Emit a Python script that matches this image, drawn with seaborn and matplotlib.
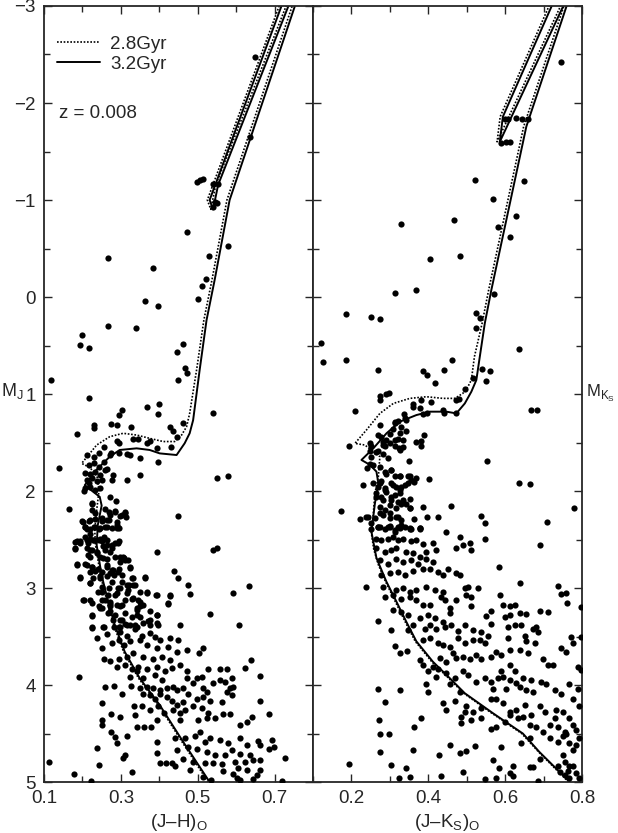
import numpy as np
import pandas as pd
import matplotlib
matplotlib.use("Agg")
import matplotlib.pyplot as plt
import seaborn as sns

# stars, (J-H)o vs MJ
jh_bright = [(0.648, -2.47), (0.637, -1.65), (0.497, -1.19), (0.505, -1.21), (0.514, -1.22), (0.540, -1.17),
             (0.553, -1.16), (0.544, -0.98), (0.549, -0.97), (0.540, -0.93), (0.473, -0.67), (0.579, -0.53),
             (0.530, -0.42), (0.267, -0.40), (0.384, -0.30), (0.522, -0.19)]

jh_mid = [(0.512, -0.11), (0.500, 0.02), (0.363, 0.04), (0.396, 0.09), (0.267, 0.30), (0.340, 0.32), (0.198, 0.39),
          (0.194, 0.49), (0.216, 0.53), (0.462, 0.48), (0.447, 0.57), (0.468, 0.73), (0.471, 0.78), (0.449, 0.86),
          (0.119, 0.86), (0.216, 1.04), (0.369, 1.13), (0.400, 1.10), (0.396, 1.21), (0.539, 1.20), (0.304, 1.17),
          (0.295, 1.22), (0.229, 1.32), (0.230, 1.35), (0.274, 1.31), (0.289, 1.32), (0.326, 1.34), (0.185, 1.41),
          (0.427, 1.34), (0.436, 1.38), (0.447, 1.44), (0.461, 1.30), (0.289, 1.48), (0.294, 1.51), (0.332, 1.46),
          (0.344, 1.46), (0.367, 1.51), (0.377, 1.48), (0.395, 1.56), (0.430, 1.55), (0.255, 1.55), (0.274, 1.61),
          (0.296, 1.61), (0.315, 1.62), (0.325, 1.63), (0.397, 1.70), (0.351, 1.66), (0.211, 1.63), (0.229, 1.65),
          (0.242, 1.61), (0.272, 1.63), (0.139, 1.76), (0.549, 1.87), (0.580, 1.85), (0.351, 1.83), (0.315, 1.89),
          (0.279, 1.84), (0.276, 1.89),
          (0.216, 1.73), (0.229, 1.71), (0.242, 1.75), (0.255, 1.70), (0.263, 1.77), (0.207, 1.81), (0.220, 1.82),
          (0.233, 1.80), (0.246, 1.84), (0.259, 1.78), (0.211, 1.89), (0.224, 1.87), (0.237, 1.90), (0.250, 1.89),
          (0.207, 1.97), (0.220, 1.96), (0.233, 1.99), (0.203, 2.00), (0.246, 1.97), (0.216, 1.92),
          (0.272, 2.06), (0.287, 2.10), (0.226, 2.12), (0.165, 2.19), (0.449, 2.26),
          (0.224, 2.20), (0.259, 2.19), (0.268, 2.22), (0.285, 2.22), (0.311, 2.22), (0.313, 2.27), (0.198, 2.31),
          (0.216, 2.31), (0.233, 2.29), (0.250, 2.31), (0.268, 2.30), (0.289, 2.32), (0.298, 2.26), (0.207, 2.37),
          (0.229, 2.37), (0.242, 2.39), (0.259, 2.37), (0.276, 2.38), (0.294, 2.38)]

# the crowded upper main sequence, read from a close-up
jh_dense = [(0.224, 2.13), (0.232, 2.23), (0.220, 2.30), (0.202, 2.32), (0.250, 2.28), (0.263, 2.30), (0.271, 2.25),
            (0.284, 2.21), (0.302, 2.25), (0.310, 2.23), (0.289, 2.35), (0.211, 2.39), (0.220, 2.44), (0.206, 2.47),
            (0.185, 2.52), (0.180, 2.59), (0.193, 2.54), (0.215, 2.54), (0.228, 2.51), (0.245, 2.49), (0.263, 2.51),
            (0.276, 2.56), (0.293, 2.54), (0.254, 2.57), (0.220, 2.61), (0.237, 2.64), (0.215, 2.66), (0.271, 2.63),
            (0.254, 2.69), (0.284, 2.68), (0.306, 2.68), (0.319, 2.71), (0.297, 2.73), (0.185, 2.75), (0.206, 2.75),
            (0.224, 2.78), (0.241, 2.80), (0.263, 2.76), (0.280, 2.815), (0.293, 2.83), (0.323, 2.78), (0.220, 2.83),
            (0.245, 2.88), (0.228, 2.90), (0.193, 2.90), (0.271, 2.85), (0.302, 2.935), (0.328, 2.90), (0.362, 2.90),
            (0.220, 2.95), (0.250, 2.99), (0.276, 2.935), (0.293, 3.00), (0.315, 2.97), (0.332, 2.97), (0.241, 3.04),
            (0.267, 3.07), (0.289, 3.055), (0.319, 3.02), (0.367, 3.05), (0.393, 3.07), (0.427, 3.07), (0.202, 3.12),
            (0.220, 3.12), (0.250, 3.12), (0.271, 3.14), (0.310, 3.12), (0.328, 3.11), (0.345, 3.12), (0.423, 3.16),
            (0.245, 3.21), (0.271, 3.19), (0.297, 3.19), (0.341, 3.23), (0.349, 3.19), (0.267, 3.26), (0.284, 3.28),
            (0.224, 3.28), (0.341, 3.28), (0.280, 3.33), (0.302, 3.33), (0.375, 3.33), (0.393, 3.28), (0.297, 3.40),
            (0.254, 3.40), (0.224, 3.40), (0.323, 3.38), (0.341, 3.40), (0.358, 3.365), (0.375, 3.38), (0.393, 3.365)]

jh_faint = [(0.207, 2.37), (0.220, 2.39), (0.233, 2.37), (0.246, 2.38), (0.263, 2.37), (0.289, 2.38), (0.181, 2.53),
            (0.181, 2.60), (0.194, 2.52), (0.211, 2.51), (0.220, 2.49), (0.229, 2.51), (0.242, 2.51), (0.250, 2.52),
            (0.255, 2.47), (0.263, 2.56), (0.285, 2.54), (0.294, 2.52), (0.211, 2.59), (0.224, 2.61), (0.237, 2.63),
            (0.259, 2.61), (0.276, 2.59), (0.220, 2.68), (0.246, 2.68), (0.263, 2.70), (0.298, 2.68), (0.311, 2.71),
            (0.395, 2.63), (0.539, 2.61), (0.551, 2.59), (0.439, 2.82), (0.448, 2.90), (0.475, 2.97), (0.480, 3.06),
            (0.634, 2.98), (0.591, 3.05), (0.533, 3.27), (0.608, 3.38), (0.427, 3.08), (0.423, 3.15), (0.391, 3.07),
            (0.363, 2.89), (0.393, 3.28), (0.396, 3.38),
            (0.187, 2.76), (0.211, 2.76), (0.224, 2.78), (0.194, 2.89), (0.233, 2.82), (0.250, 2.83), (0.263, 2.78),
            (0.276, 2.81), (0.294, 2.80), (0.307, 2.69), (0.324, 2.79), (0.220, 2.95), (0.246, 2.90), (0.263, 2.88),
            (0.281, 2.87), (0.302, 2.87), (0.331, 2.90), (0.320, 2.97), (0.337, 2.97), (0.350, 3.04), (0.367, 3.04),
            (0.250, 3.04), (0.268, 3.00), (0.298, 3.00), (0.317, 3.05), (0.285, 3.07),
            (0.203, 3.12), (0.224, 3.15), (0.242, 3.19), (0.259, 3.12), (0.272, 3.16), (0.289, 3.18), (0.302, 3.18),
            (0.250, 3.21), (0.272, 3.24), (0.224, 3.29), (0.332, 3.10), (0.350, 3.14), (0.358, 3.18), (0.341, 3.21),
            (0.311, 3.26), (0.298, 3.33), (0.311, 3.37), (0.328, 3.30), (0.350, 3.30), (0.371, 3.34), (0.376, 3.24),
            (0.224, 3.41), (0.255, 3.40), (0.281, 3.40), (0.294, 3.40), (0.315, 3.38), (0.337, 3.38),
            (0.263, 3.47), (0.298, 3.45), (0.315, 3.49), (0.337, 3.42), (0.354, 3.49), (0.376, 3.46), (0.389, 3.50),
            (0.402, 3.54), (0.428, 3.52), (0.449, 3.54), (0.454, 3.38), (0.239, 3.52), (0.250, 3.62), (0.276, 3.57),
            (0.294, 3.54), (0.307, 3.59), (0.324, 3.55), (0.350, 3.54), (0.367, 3.59), (0.393, 3.62), (0.423, 3.61),
            (0.445, 3.66), (0.471, 3.64), (0.504, 3.67), (0.514, 3.62), (0.255, 3.73), (0.272, 3.75), (0.294, 3.73),
            (0.315, 3.71), (0.332, 3.67), (0.358, 3.71), (0.384, 3.73), (0.406, 3.71), (0.428, 3.74),
            (0.289, 3.81), (0.311, 3.79), (0.328, 3.83), (0.345, 3.81), (0.367, 3.83), (0.393, 3.81), (0.415, 3.86),
            (0.432, 3.82), (0.454, 3.79), (0.471, 3.86), (0.497, 3.93), (0.527, 3.84), (0.558, 3.83), (0.575, 3.83),
            (0.623, 3.82), (0.638, 3.74), (0.663, 3.91), (0.588, 3.93), (0.324, 3.92), (0.341, 3.86), (0.358, 3.93),
            (0.389, 3.90), (0.406, 3.95), (0.471, 3.93), (0.510, 3.92), (0.190, 3.92), (0.259, 4.02), (0.282, 4.01),
            (0.326, 4.01), (0.350, 4.03), (0.367, 4.02), (0.384, 4.03), (0.402, 4.05), (0.419, 4.03), (0.436, 4.02),
            (0.445, 4.05), (0.462, 4.03), (0.488, 3.98), (0.514, 4.03), (0.540, 3.98), (0.558, 3.95), (0.571, 3.97),
            (0.584, 4.03), (0.592, 4.02), (0.523, 4.07),
            (0.250, 4.19), (0.302, 4.09), (0.358, 4.09), (0.376, 4.10), (0.389, 4.14), (0.402, 4.09), (0.419, 4.12),
            (0.432, 4.16), (0.445, 4.21), (0.462, 4.17), (0.475, 4.09), (0.497, 4.14), (0.514, 4.12), (0.532, 4.16),
            (0.562, 4.17), (0.588, 4.10), (0.575, 4.07), (0.663, 4.16), (0.335, 4.22), (0.354, 4.22), (0.376, 4.26),
            (0.397, 4.22), (0.412, 4.29), (0.436, 4.26), (0.454, 4.29), (0.467, 4.26), (0.488, 4.22), (0.510, 4.24),
            (0.527, 4.29), (0.545, 4.34), (0.566, 4.30), (0.584, 4.30), (0.610, 4.41), (0.627, 4.38), (0.640, 4.33),
            (0.686, 4.30), (0.252, 4.36), (0.250, 4.41), (0.274, 4.30), (0.298, 4.33), (0.337, 4.31), (0.341, 4.43),
            (0.360, 4.43), (0.378, 4.43), (0.393, 4.36), (0.454, 4.36), (0.501, 4.36), (0.523, 4.34),
            (0.274, 4.48), (0.285, 4.54), (0.291, 4.60), (0.317, 4.53), (0.393, 4.59), (0.441, 4.55), (0.468, 4.55),
            (0.493, 4.53), (0.506, 4.48), (0.519, 4.59), (0.532, 4.55), (0.558, 4.57), (0.578, 4.60), (0.610, 4.55),
            (0.627, 4.62), (0.657, 4.58), (0.694, 4.57), (0.698, 4.64), (0.686, 4.66), (0.239, 4.65), (0.393, 4.70),
            (0.445, 4.67), (0.475, 4.64), (0.497, 4.66), (0.523, 4.69), (0.545, 4.72), (0.571, 4.72), (0.588, 4.67),
            (0.610, 4.71), (0.636, 4.72), (0.662, 4.62), (0.727, 4.75), (0.305, 4.75), (0.311, 4.72), (0.112, 4.79),
            (0.402, 4.80), (0.417, 4.80), (0.432, 4.80), (0.441, 4.83), (0.462, 4.76), (0.488, 4.79), (0.519, 4.80),
            (0.540, 4.80), (0.562, 4.81), (0.597, 4.79), (0.623, 4.79), (0.644, 4.77), (0.663, 4.77),
            (0.242, 4.82), (0.179, 4.92), (0.222, 4.99), (0.328, 4.90), (0.481, 4.88), (0.513, 4.95), (0.534, 4.98),
            (0.566, 4.89), (0.592, 4.92), (0.601, 4.96), (0.610, 4.98), (0.627, 4.88), (0.653, 4.93), (0.662, 4.88),
            (0.644, 4.97), (0.718, 4.99), (0.605, 4.86)]

# stars, (J-Ks)o vs MKs
jk_bright = [(0.744, -2.42), (0.599, -1.84), (0.607, -1.84), (0.627, -1.85), (0.645, -1.83), (0.660, -1.83),
             (0.590, -1.59), (0.601, -1.60), (0.612, -1.60), (0.521, -1.21), (0.649, -1.20), (0.568, -1.01),
             (0.629, -0.84), (0.581, -0.72), (0.613, -0.62), (0.328, -0.75), (0.468, -0.79), (0.405, -0.39),
             (0.482, -0.42)]

jk_mid = [(0.313, -0.04), (0.369, -0.07), (0.571, -0.03), (0.186, 0.18), (0.250, 0.21), (0.274, 0.23), (0.525, 0.17),
          (0.535, 0.22), (0.523, 0.32), (0.121, 0.47), (0.127, 0.67), (0.187, 0.65), (0.270, 0.75), (0.637, 0.54),
          (0.385, 0.76), (0.396, 0.80), (0.440, 0.75), (0.461, 0.65), (0.418, 0.89), (0.540, 0.74), (0.560, 0.76),
          (0.549, 0.87), (0.516, 0.84), (0.496, 0.95), (0.473, 1.06), (0.480, 1.05), (0.274, 1.02), (0.274, 1.06),
          (0.289, 1.00), (0.297, 0.99), (0.209, 1.18), (0.668, 1.16), (0.683, 1.17), (0.359, 1.10), (0.359, 1.13),
          (0.382, 1.06), (0.379, 1.14), (0.408, 1.08), (0.386, 1.21), (0.397, 1.20), (0.438, 1.17), (0.440, 1.20),
          (0.473, 1.20), (0.337, 1.21), (0.313, 1.29), (0.321, 1.28), (0.343, 1.27), (0.274, 1.32), (0.308, 1.36),
          (0.330, 1.34), (0.326, 1.40), (0.300, 1.41), (0.270, 1.42), (0.278, 1.44), (0.289, 1.47), (0.282, 1.53),
          (0.313, 1.47), (0.321, 1.46), (0.334, 1.47), (0.324, 1.56), (0.334, 1.55), (0.343, 1.38), (0.369, 1.49),
          (0.380, 1.48), (0.380, 1.54), (0.390, 1.42), (0.193, 1.54), (0.248, 1.50), (0.252, 1.54), (0.248, 1.59),
          (0.270, 1.59), (0.283, 1.62), (0.295, 1.66), (0.350, 1.69), (0.552, 1.69), (0.248, 1.72), (0.257, 1.73),
          (0.241, 1.76), (0.287, 1.80), (0.302, 1.78), (0.313, 1.85), (0.327, 1.85), (0.352, 1.85), (0.367, 1.87),
          (0.401, 1.88), (0.229, 1.94), (0.256, 1.92), (0.270, 1.96), (0.278, 1.90), (0.287, 1.97), (0.304, 1.92),
          (0.317, 1.96), (0.326, 1.99), (0.339, 1.94), (0.347, 1.92), (0.362, 1.91), (0.636, 1.92), (0.664, 1.93),
          (0.265, 2.02), (0.278, 2.06), (0.291, 2.01), (0.304, 2.09), (0.313, 2.04), (0.326, 2.02), (0.334, 2.09),
          (0.352, 2.08), (0.274, 2.16), (0.287, 2.20), (0.300, 2.14), (0.317, 2.18), (0.330, 2.13), (0.352, 2.18),
          (0.385, 2.16), (0.460, 2.15), (0.780, 2.17), (0.174, 2.21), (0.222, 2.29), (0.239, 2.27), (0.261, 2.28),
          (0.282, 2.25), (0.300, 2.28), (0.317, 2.27), (0.330, 2.30), (0.362, 2.29), (0.397, 2.27), (0.425, 2.27),
          (0.536, 2.26), (0.548, 2.33), (0.708, 2.32), (0.274, 2.37), (0.300, 2.36), (0.321, 2.37), (0.352, 2.38),
          (0.378, 2.38)]

jk_dense = [(0.274, 1.75), (0.291, 1.82), (0.304, 1.78), (0.326, 1.85), (0.347, 1.85), (0.274, 1.92), (0.287, 1.99),
            (0.309, 1.94), (0.330, 1.96), (0.356, 1.89), (0.265, 2.06), (0.283, 2.09), (0.304, 2.06), (0.321, 2.11),
            (0.343, 2.13), (0.274, 2.23), (0.300, 2.23), (0.321, 2.27), (0.352, 2.18), (0.269, 2.37), (0.295, 2.37),
            (0.313, 2.42), (0.330, 2.35), (0.356, 2.39), (0.378, 2.39), (0.252, 2.33), (0.244, 2.27), (0.300, 1.51),
            (0.313, 1.54), (0.326, 1.58), (0.287, 1.54), (0.265, 1.595), (0.252, 1.646), (0.283, 1.49), (0.313, 1.30),
            (0.339, 1.25)]

jk_faint = [(0.252, 2.39), (0.270, 2.37), (0.287, 2.39), (0.300, 2.37), (0.313, 2.40), (0.326, 2.38), (0.339, 2.37),
            (0.352, 2.39), (0.378, 2.38), (0.447, 2.42), (0.482, 2.47), (0.508, 2.54), (0.547, 2.49), (0.691, 2.56),
            (0.265, 2.49), (0.278, 2.51), (0.296, 2.49), (0.309, 2.47), (0.321, 2.51), (0.334, 2.49), (0.356, 2.52),
            (0.369, 2.51), (0.386, 2.55), (0.412, 2.54), (0.265, 2.59), (0.287, 2.63), (0.304, 2.61), (0.317, 2.59),
            (0.343, 2.63), (0.360, 2.64), (0.378, 2.68), (0.395, 2.63), (0.421, 2.61), (0.473, 2.59), (0.489, 2.56),
            (0.512, 2.61),
            (0.274, 2.71), (0.296, 2.75), (0.317, 2.70), (0.334, 2.73), (0.356, 2.71), (0.373, 2.75), (0.395, 2.70),
            (0.412, 2.73), (0.278, 2.87), (0.300, 2.85), (0.321, 2.83), (0.339, 2.87), (0.360, 2.82), (0.386, 2.80),
            (0.404, 2.80), (0.425, 2.83), (0.438, 2.87), (0.473, 2.85), (0.482, 2.87), (0.451, 2.80), (0.584, 2.78),
            (0.239, 2.99), (0.283, 2.99), (0.317, 3.02), (0.334, 3.00), (0.352, 3.04), (0.369, 3.02), (0.395, 2.99),
            (0.417, 3.02), (0.438, 3.04), (0.495, 3.00), (0.503, 2.99), (0.529, 3.00), (0.639, 2.95), (0.737, 2.98),
            (0.746, 3.06), (0.759, 3.05), (0.761, 3.15), (0.797, 3.20),
            (0.309, 3.07), (0.330, 3.11), (0.352, 3.09), (0.369, 3.12), (0.386, 3.18), (0.404, 3.18), (0.434, 3.09),
            (0.443, 3.12), (0.456, 3.21), (0.473, 3.12), (0.499, 3.07), (0.512, 3.09), (0.287, 3.09), (0.309, 3.23),
            (0.330, 3.25), (0.347, 3.28), (0.378, 3.31), (0.399, 3.28), (0.417, 3.31), (0.438, 3.35), (0.456, 3.26),
            (0.512, 3.19), (0.551, 3.29), (0.564, 3.24), (0.586, 3.07), (0.594, 3.18), (0.612, 3.19), (0.625, 3.18),
            (0.638, 3.26), (0.655, 3.27), (0.690, 3.24), (0.711, 3.25), (0.599, 3.30), (0.612, 3.28), (0.268, 3.34),
            (0.304, 3.43), (0.347, 3.43), (0.360, 3.38), (0.391, 3.42), (0.404, 3.38), (0.421, 3.42), (0.443, 3.40),
            (0.460, 3.38), (0.477, 3.44), (0.495, 3.38), (0.516, 3.43), (0.538, 3.45), (0.555, 3.49), (0.564, 3.37),
            (0.607, 3.40), (0.625, 3.38), (0.642, 3.38), (0.607, 3.52), (0.651, 3.49), (0.672, 3.42), (0.685, 3.45),
            (0.681, 3.40), (0.797, 3.50),
            (0.313, 3.60), (0.326, 3.67), (0.345, 3.65), (0.386, 3.54), (0.404, 3.52), (0.425, 3.57), (0.438, 3.59),
            (0.456, 3.61), (0.477, 3.52), (0.495, 3.57), (0.516, 3.54), (0.534, 3.54), (0.547, 3.57), (0.378, 3.74),
            (0.386, 3.79), (0.412, 3.81), (0.430, 3.72), (0.447, 3.76), (0.464, 3.67), (0.473, 3.72), (0.490, 3.71),
            (0.508, 3.73), (0.525, 3.69), (0.538, 3.73), (0.564, 3.71), (0.577, 3.66), (0.590, 3.69), (0.612, 3.64),
            (0.638, 3.64), (0.655, 3.55), (0.659, 3.67), (0.677, 3.57), (0.698, 3.73), (0.711, 3.79), (0.724, 3.79),
            (0.746, 3.62), (0.759, 3.66), (0.776, 3.57), (0.789, 3.81), (0.797, 3.85), (0.772, 3.50), (0.612, 3.79),
            (0.625, 3.86), (0.590, 3.86),
            (0.399, 3.86), (0.425, 3.83), (0.447, 3.88), (0.469, 3.93), (0.490, 3.86), (0.503, 3.90), (0.525, 3.97),
            (0.547, 3.93), (0.564, 3.97), (0.581, 3.93), (0.594, 3.92), (0.612, 3.95), (0.629, 3.98), (0.646, 3.93),
            (0.668, 3.95), (0.694, 3.97), (0.707, 3.99), (0.729, 4.05), (0.746, 4.09), (0.767, 3.99), (0.789, 4.04),
            (0.395, 3.99), (0.399, 4.07), (0.270, 4.04), (0.326, 4.05), (0.421, 3.92), (0.456, 3.99), (0.482, 4.07),
            (0.568, 4.04), (0.603, 4.04), (0.638, 4.02), (0.655, 4.05), (0.672, 4.07),
            (0.287, 4.17), (0.438, 4.19), (0.447, 4.26), (0.469, 4.16), (0.495, 4.28), (0.499, 4.22), (0.516, 4.28),
            (0.538, 4.24), (0.564, 4.14), (0.577, 4.14), (0.594, 4.19), (0.612, 4.28), (0.629, 4.26), (0.651, 4.21),
            (0.668, 4.31), (0.690, 4.22), (0.703, 4.28), (0.733, 4.26), (0.750, 4.28), (0.776, 4.14), (0.793, 4.22),
            (0.767, 4.34), (0.486, 4.33), (0.512, 4.36), (0.536, 4.34), (0.564, 4.45), (0.577, 4.43), (0.599, 4.38),
            (0.612, 4.31), (0.633, 4.34), (0.646, 4.33), (0.664, 4.41), (0.681, 4.43), (0.698, 4.48), (0.716, 4.41),
            (0.729, 4.34), (0.737, 4.43), (0.755, 4.48), (0.776, 4.41), (0.785, 4.46), (0.272, 4.36), (0.274, 4.50),
            (0.297, 4.51), (0.362, 4.43), (0.380, 4.34), (0.486, 4.39),
            (0.274, 4.69), (0.359, 4.67), (0.456, 4.62), (0.482, 4.70), (0.499, 4.68), (0.521, 4.63), (0.428, 4.72),
            (0.588, 4.64), (0.642, 4.60), (0.664, 4.55), (0.690, 4.76), (0.716, 4.55), (0.737, 4.59), (0.750, 4.53),
            (0.759, 4.50), (0.767, 4.60), (0.785, 4.62), (0.793, 4.55), (0.776, 4.67), (0.750, 4.72), (0.568, 4.77),
            (0.620, 4.83), (0.664, 4.85), (0.672, 4.85), (0.737, 4.83), (0.755, 4.79), (0.767, 4.84),
            (0.193, 4.81), (0.304, 4.82), (0.341, 4.86), (0.324, 4.96), (0.352, 4.95), (0.434, 4.94), (0.490, 4.90),
            (0.547, 4.97), (0.577, 4.96), (0.584, 4.86), (0.612, 4.91), (0.620, 4.94), (0.685, 4.99), (0.742, 4.90),
            (0.755, 4.93), (0.763, 4.89), (0.776, 4.84), (0.785, 4.91), (0.793, 4.96), (0.767, 4.96)]

# isochrones (z = 0.008); values above -3 run off the top of the panel
iso28_jh_x = [0.527, 0.459, 0.398, 0.346, 0.307, 0.281, 0.264, 0.247, 0.234, 0.232, 0.237, 0.243, 0.238, 0.220,
              0.198, 0.237, 0.271, 0.306, 0.341, 0.375, 0.410, 0.440, 0.458, 0.471, 0.479, 0.497, 0.516, 0.537,
              0.576, 0.745, 0.780, 0.769, 0.729, 0.547, 0.534, 0.525, 0.711, 0.749]
iso28_jh_y = [5.0, 4.585, 4.206, 3.93, 3.657, 3.38, 3.14, 2.87, 2.557, 2.4, 2.2, 2.0, 1.85, 1.76,
              1.715, 1.526, 1.44, 1.405, 1.423, 1.457, 1.49, 1.49, 1.423, 1.337, 1.2, 0.753, 0.237, -0.175,
              -1.0, -2.99, -3.4, -3.4, -2.99, -1.155, -0.904, -1.0, -2.99, -3.4]
iso32_jh_x = [0.531, 0.462, 0.401, 0.349, 0.310, 0.284, 0.267, 0.250, 0.237, 0.240, 0.250, 0.245, 0.206, 0.237,
              0.271, 0.297, 0.341, 0.375, 0.401, 0.445, 0.466, 0.479, 0.488, 0.505, 0.523, 0.544, 0.583, 0.752,
              0.787, 0.776, 0.735, 0.553, 0.540, 0.531, 0.717, 0.755]
iso32_jh_y = [5.0, 4.585, 4.206, 3.93, 3.657, 3.38, 3.14, 2.87, 2.557, 2.35, 2.15, 2.06, 1.94, 1.78,
              1.646, 1.577, 1.56, 1.577, 1.612, 1.629, 1.508, 1.405, 1.27, 0.753, 0.237, -0.175, -1.0, -2.99,
              -3.4, -3.4, -2.99, -1.155, -0.904, -1.0, -2.99, -3.4]

iso28_jk_x = [0.765, 0.687, 0.643, 0.565, 0.492, 0.453, 0.409, 0.366, 0.340, 0.314, 0.287, 0.270, 0.258, 0.252,
              0.257, 0.261, 0.270, 0.274, 0.257, 0.235, 0.209, 0.239, 0.274, 0.309, 0.352, 0.395, 0.438, 0.469,
              0.490, 0.503, 0.512, 0.520, 0.540, 0.557, 0.565, 0.648, 0.752, 0.786, 0.759, 0.713, 0.587, 0.579,
              0.743, 0.791]
iso28_jk_y = [5.0, 4.69, 4.50, 4.29, 4.085, 3.93, 3.76, 3.55, 3.35, 3.14, 2.92, 2.76, 2.6, 2.437,
              2.23, 2.024, 1.853, 1.646, 1.595, 1.526, 1.509, 1.371, 1.2, 1.097, 1.045, 1.028, 1.045, 1.045,
              0.993, 0.925, 0.856, 0.615, 0.271, -0.072, -0.22, -1.756, -2.99, -3.4, -3.4, -2.99, -1.859, -1.6,
              -2.99, -3.4]
iso32_jk_x = [0.768, 0.689, 0.646, 0.568, 0.495, 0.456, 0.412, 0.369, 0.343, 0.317, 0.291, 0.265, 0.252, 0.261,
              0.270, 0.265, 0.248, 0.226, 0.257, 0.291, 0.326, 0.369, 0.404, 0.447, 0.473, 0.495, 0.512, 0.525,
              0.534, 0.547, 0.564, 0.572, 0.655, 0.759, 0.793, 0.766, 0.720, 0.594, 0.586, 0.750, 0.798]
iso32_jk_y = [5.0, 4.69, 4.50, 4.29, 4.085, 3.93, 3.76, 3.55, 3.35, 3.14, 2.935, 2.69, 2.42, 2.13,
              1.92, 1.80, 1.73, 1.68, 1.56, 1.406, 1.285, 1.217, 1.182, 1.182, 1.2, 1.097, 0.976, 0.856,
              0.615, 0.271, -0.072, -0.22, -1.756, -2.99, -3.4, -3.4, -2.99, -1.859, -1.6, -2.99, -3.4]

jh = pd.DataFrame(jh_bright + jh_mid + jh_dense + jh_faint, columns=["color", "mag"])
jk = pd.DataFrame(jk_bright + jk_mid + jk_dense + jk_faint, columns=["color", "mag"])

sns.set_style("ticks")
plt.rcParams["font.family"] = ["Liberation Sans", "DejaVu Sans"]
plt.rcParams["mathtext.fontset"] = "custom"
plt.rcParams["mathtext.rm"] = "Liberation Sans"
plt.rcParams["font.size"] = 13.5
plt.rcParams["axes.linewidth"] = 1.3

fig = plt.figure(figsize=(6.18, 8.33), dpi=100)
ax1 = fig.add_axes([0.0712, 0.0612, 0.4353, 0.9316])
ax2 = fig.add_axes([0.5065, 0.0612, 0.4353, 0.9316])

dotted = (0, (1.0, 1.0))

for ax, df, x28, y28, x32, y32 in [(ax1, jh, iso28_jh_x, iso28_jh_y, iso32_jh_x, iso32_jh_y),
                                   (ax2, jk, iso28_jk_x, iso28_jk_y, iso32_jk_x, iso32_jk_y)]:
    sns.scatterplot(data=df, x="color", y="mag", ax=ax, s=20, color="black", linewidth=0, zorder=3)
    sns.lineplot(x=x28, y=y28, ax=ax, sort=False, estimator=None, color="black", lw=1.2,
                 linestyle=dotted, label="2.8Gyr", zorder=2)
    sns.lineplot(x=x32, y=y32, ax=ax, sort=False, estimator=None, color="black", lw=1.4,
                 label="3.2Gyr", zorder=2)
    ax.set_xlim(0.1, 0.8)
    ax.set_ylim(5, -3)
    ax.set_yticks(np.arange(-3, 6, 1))
    ax.set_yticks(np.arange(-2.5, 5, 1), minor=True)
    ax.tick_params(which="both", direction="in", top=True, right=True, width=1.0, labelsize=13.5)
    ax.tick_params(which="major", length=6, pad=6)
    ax.tick_params(which="minor", length=4)
    ax.set_xlabel("")
    ax.set_ylabel("")

ax1.set_xticks([0.1, 0.3, 0.5, 0.7])
ax1.set_xticks([0.2, 0.4, 0.6, 0.8], minor=True)
ax2.set_xticks([0.2, 0.4, 0.6, 0.8])
ax2.set_xticks([0.1, 0.3, 0.5, 0.7], minor=True)
ax2.tick_params(labelleft=False)

ax1.set_xlabel("(J\u2013H)$_\\mathregular{O}$", labelpad=3)
ax2.set_xlabel("(J\u2013K$_\\mathregular{S}$)$_\\mathregular{O}$", labelpad=3)
ax1.text(-0.158, 0.504, "M$_\\mathregular{J}$", transform=ax1.transAxes, ha="left", va="center", fontsize=13)
ax2.text(1.013, 0.501, "M$_{\\mathregular{K}_\\mathregular{S}}$", transform=ax2.transAxes,
         ha="left", va="center", fontsize=12)

ax1.legend(loc="upper left", bbox_to_anchor=(0.048, 0.962), frameon=False, borderpad=0,
           borderaxespad=0, handlelength=2.3, handletextpad=0.55, labelspacing=0.15, fontsize=13.5)
ax2.get_legend().remove()
ax1.text(0.056, 0.862, "z = 0.008", transform=ax1.transAxes, ha="left", va="center")

fig.savefig("out.png", dpi=100)
